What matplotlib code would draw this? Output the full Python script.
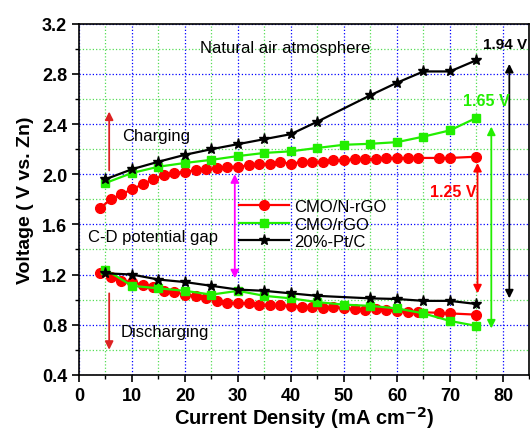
import numpy as np
import matplotlib
matplotlib.use('Agg')
from matplotlib import pyplot as plt
from matplotlib.ticker import MultipleLocator

plt.rcParams['font.family'] = ['Liberation Sans', 'DejaVu Sans']

# CMO/N-rGO (red)
red_x = [4, 6, 8, 10, 12, 14, 16, 18, 20, 22, 24, 26, 28, 30, 32, 34, 36, 38,
         40, 42, 44, 46, 48, 50, 52, 54, 56, 58, 60, 62, 64, 68, 70, 75]
red_charge = [1.73, 1.80, 1.84, 1.88, 1.92, 1.96, 1.99, 2.01, 2.02, 2.03, 2.04, 2.05,
              2.06, 2.06, 2.07, 2.08, 2.08, 2.10, 2.08, 2.10, 2.10, 2.10, 2.11, 2.11,
              2.12, 2.12, 2.12, 2.13, 2.13, 2.13, 2.13, 2.13, 2.13, 2.14]
red_discharge = [1.21, 1.18, 1.15, 1.14, 1.12, 1.10, 1.07, 1.06, 1.04, 1.03, 1.01, 0.99,
                 0.975, 0.975, 0.97, 0.96, 0.96, 0.955, 0.95, 0.945, 0.94, 0.935, 0.94, 0.93,
                 0.925, 0.92, 0.925, 0.915, 0.91, 0.905, 0.90, 0.895, 0.89, 0.88]

# CMO/rGO (green)
green_x = [5, 10, 15, 20, 25, 30, 35, 40, 45, 50, 55, 60, 65, 70, 75]
green_charge = [1.93, 2.01, 2.06, 2.09, 2.115, 2.145, 2.17, 2.183, 2.21, 2.235, 2.243,
                2.256, 2.30, 2.35, 2.45]
green_discharge = [1.24, 1.11, 1.09, 1.07, 1.04, 1.07, 1.03, 1.01, 0.98, 0.96, 0.95,
                   0.93, 0.89, 0.83, 0.79]

# 20%-Pt/C (black)
pt_x = [5, 10, 15, 20, 25, 30, 35, 40, 45, 55, 60, 65, 70, 75]
pt_charge = [1.96, 2.04, 2.10, 2.155, 2.20, 2.24, 2.28, 2.32, 2.42, 2.63, 2.73, 2.82,
             2.82, 2.91]
pt_discharge = [1.21, 1.20, 1.16, 1.14, 1.11, 1.08, 1.07, 1.05, 1.03, 1.01, 1.005,
                0.99, 0.99, 0.965]

green = '#22ee00'

fig = plt.figure(figsize=(5.3, 4.35), dpi=100)
ax = fig.add_axes([0.149, 0.136, 0.85, 0.807])

ax.plot(red_x, red_charge, '-o', color='red', lw=1.6, ms=7, label='CMO/N-rGO', zorder=5)
ax.plot(red_x, red_discharge, '-o', color='red', lw=1.6, ms=7, zorder=5)
ax.plot(green_x, green_charge, '-s', color=green, lw=1.6, ms=6, label='CMO/rGO', zorder=6)
ax.plot(green_x, green_discharge, '-s', color=green, lw=1.6, ms=6, zorder=6)
ax.plot(pt_x, pt_charge, '-*', color='black', lw=1.6, ms=8, label='20%-Pt/C', zorder=7)
ax.plot(pt_x, pt_discharge, '-*', color='black', lw=1.6, ms=8, zorder=7)

ax.set_xlim(0, 85)
ax.set_ylim(0.4, 3.2)
ax.xaxis.set_major_locator(MultipleLocator(10))
ax.xaxis.set_minor_locator(MultipleLocator(5))
ax.yaxis.set_major_locator(MultipleLocator(0.4))
ax.yaxis.set_minor_locator(MultipleLocator(0.2))
ax.yaxis.set_major_formatter(matplotlib.ticker.FormatStrFormatter('%.1f'))
ax.grid(which='major', color='blue', ls=':', lw=0.9)
ax.grid(which='minor', color='#55dd55', ls=':', lw=0.9)
ax.set_axisbelow(True)
ax.tick_params(which='major', direction='out', length=5, width=1.2, labelsize=13)
ax.tick_params(which='minor', direction='out', length=3, width=1.0)
for lab in ax.get_xticklabels() + ax.get_yticklabels():
    lab.set_fontweight('bold')
for s in ax.spines.values():
    s.set_linewidth(1.2)

ax.set_xlabel('Current Density (mA cm$^{\\mathbf{-2}}$)', fontsize=14.5, fontweight='bold', labelpad=0)
ax.set_ylabel('Voltage ( V vs. Zn)', fontsize=14, fontweight='bold', labelpad=6)

# arrows
def arrow(x, y0, y1, color, both=False):
    style = '<|-|>' if both else '-|>'
    ax.annotate('', xy=(x, y1), xytext=(x, y0),
                arrowprops=dict(arrowstyle=style, color=color, lw=1.3,
                                mutation_scale=12, shrinkA=0, shrinkB=0))

arrow(5.7, 2.03, 2.50, '#dd2222')
arrow(5.7, 1.05, 0.60, '#dd2222')
arrow(29.4, 1.17, 2.00, 'magenta', both=True)
arrow(75.2, 1.05, 2.09, 'red', both=True)
arrow(77.8, 0.77, 2.38, green, both=True)
arrow(81.2, 1.01, 2.88, 'black', both=True)

ax.text(22.8, 3.014, 'Natural air atmosphere', fontsize=12, va='center')
ax.text(8.1, 2.31, 'Charging', fontsize=12, va='center')
ax.text(1.7, 1.50, 'C-D potential gap', fontsize=12, va='center')
ax.text(7.9, 0.744, 'Discharging', fontsize=12, va='center')
ax.text(76.3, 3.04, '1.94 V', fontsize=11, fontweight='bold', va='center')
ax.text(72.4, 2.59, '1.65 V', fontsize=11.5, fontweight='bold', va='center', color=green)
ax.text(66.2, 1.863, '1.25 V', fontsize=11.5, fontweight='bold', va='center', color='red')

ax.legend(loc='upper left', bbox_to_anchor=(0.355, 0.50), frameon=False,
          fontsize=12, handlelength=3.0, handletextpad=0.3, labelspacing=0.15,
          borderaxespad=0, borderpad=0)

fig.savefig('out.png', dpi=100)
